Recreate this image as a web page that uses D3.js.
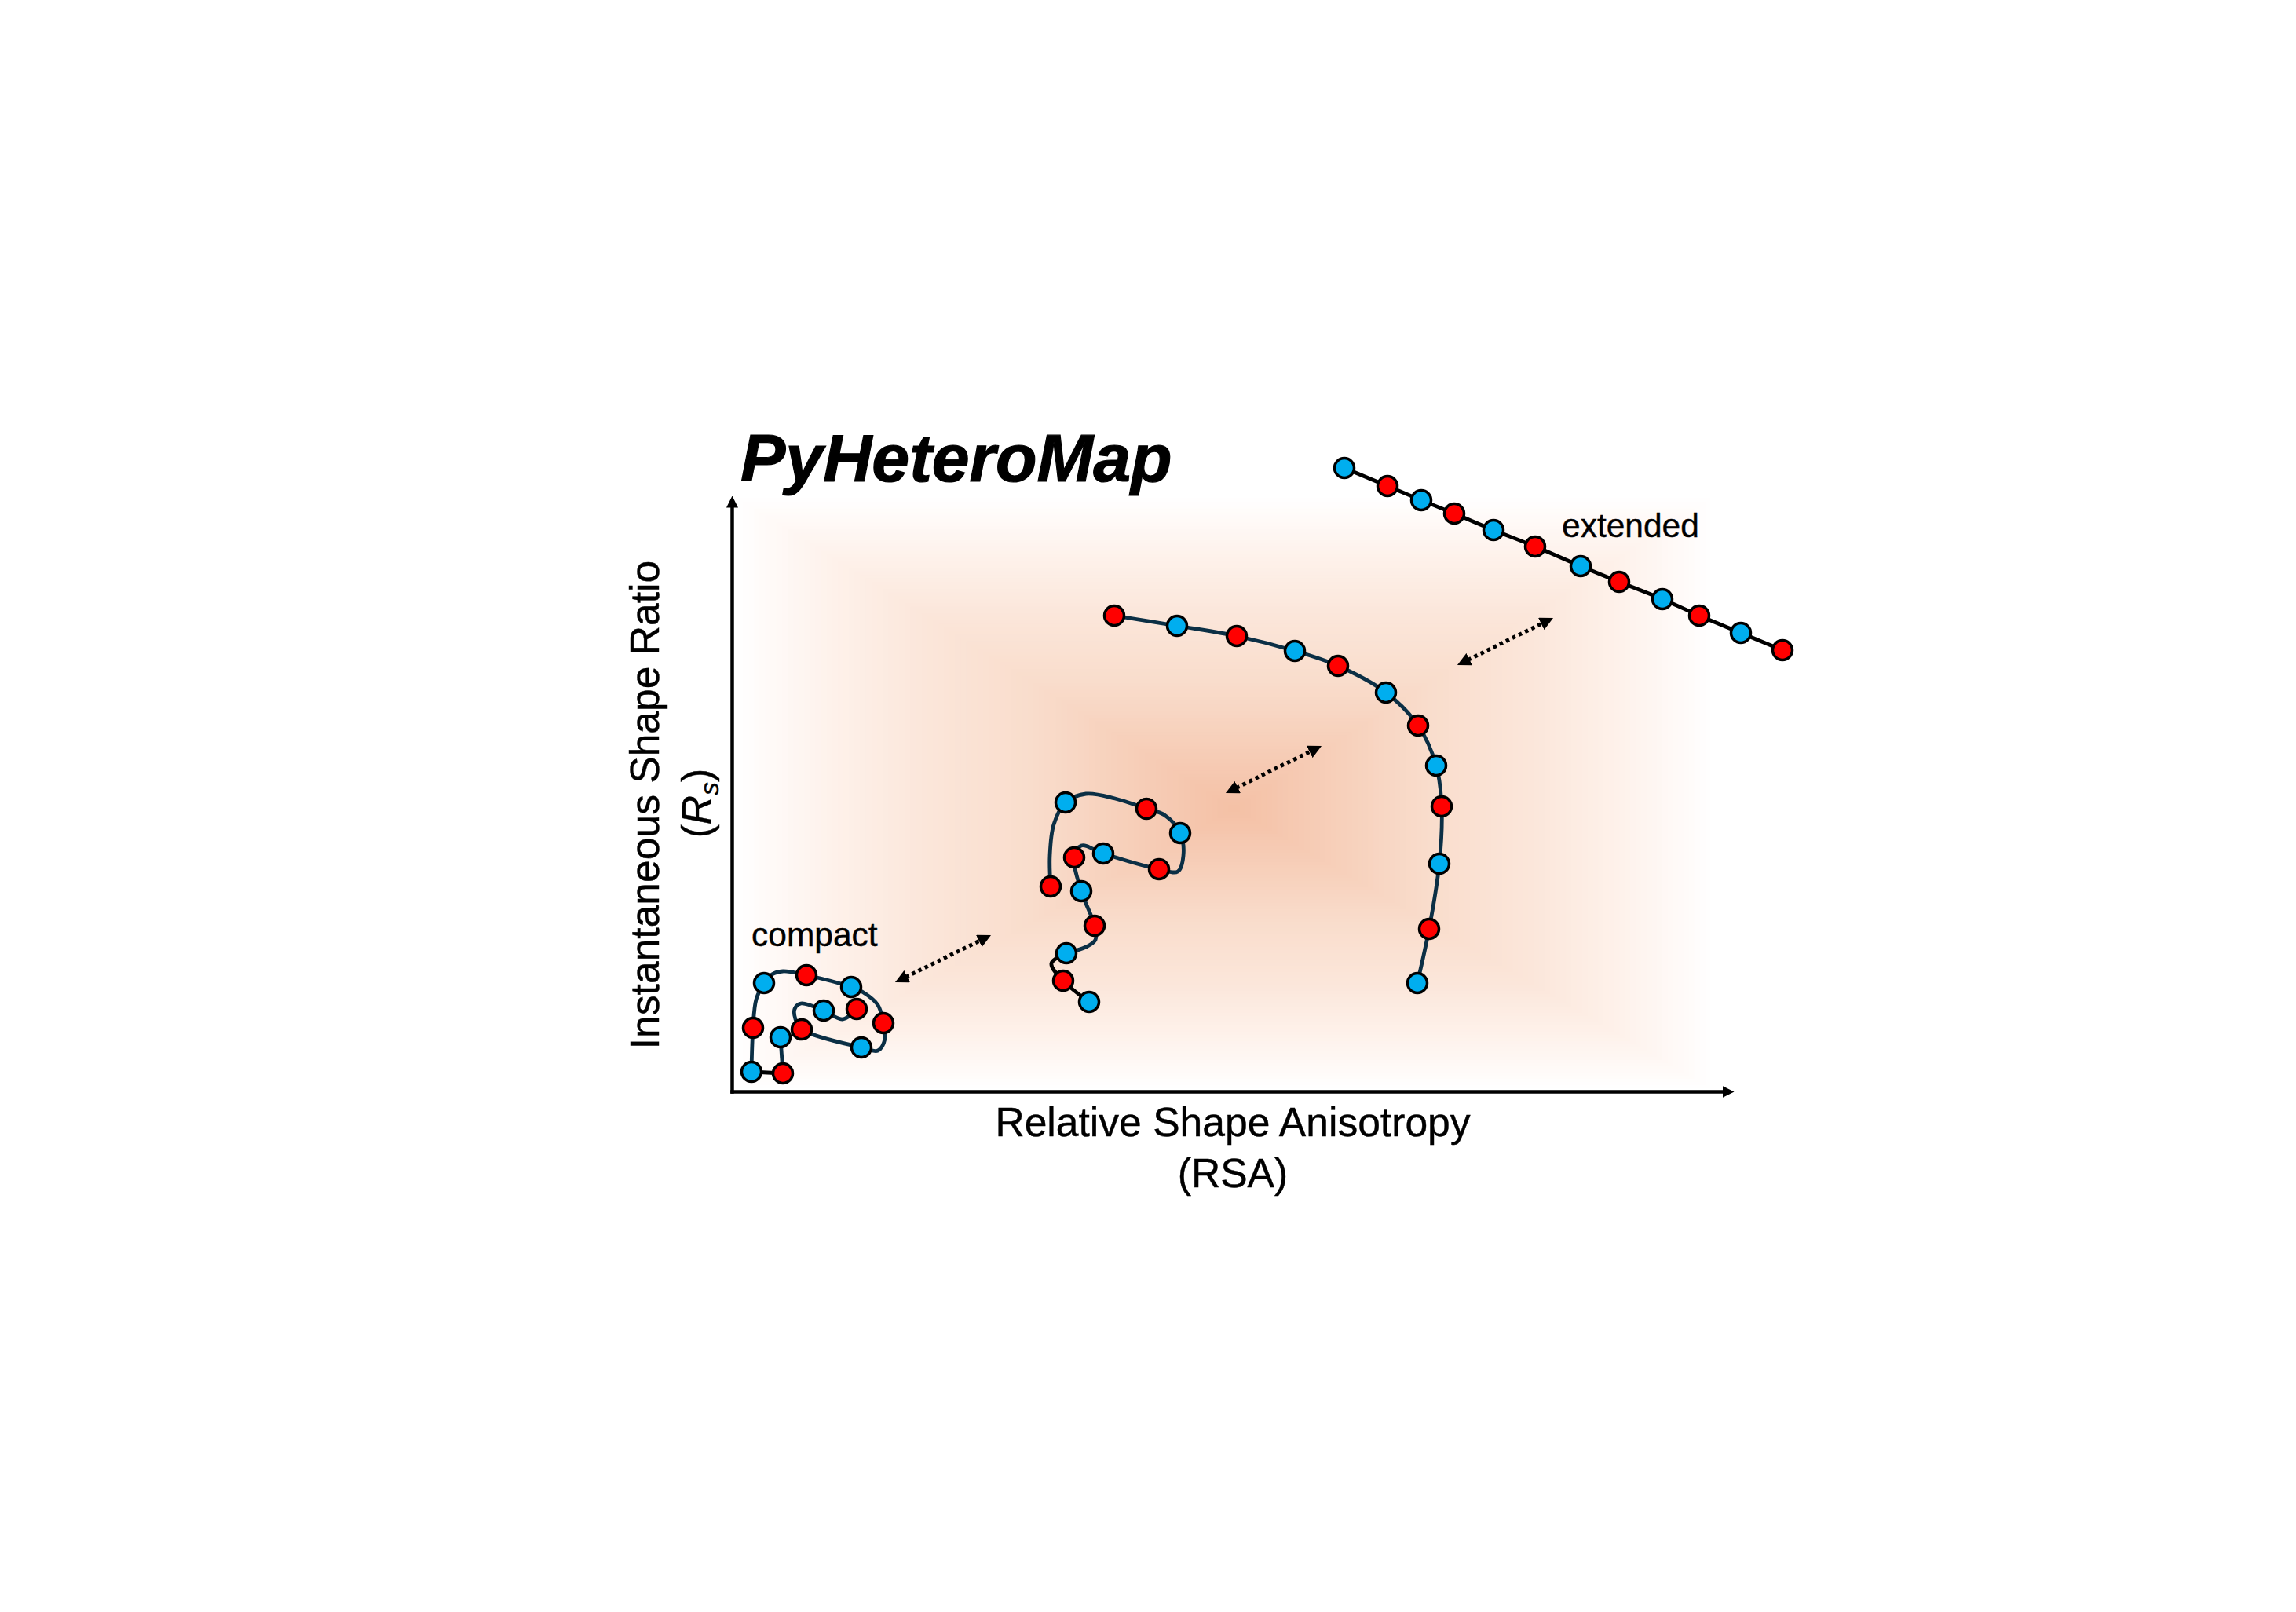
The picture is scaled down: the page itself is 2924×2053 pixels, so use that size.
<!DOCTYPE html>
<html>
<head>
<meta charset="utf-8">
<script src="https://cdn.jsdelivr.net/npm/d3@7"></script>
<style>
  html, body { margin: 0; background: #fff; }
  text { font-family: "Liberation Sans", Arial, sans-serif; fill: #000; stroke: #000; stroke-width: 0.4; }
</style>
</head>
<body>
<svg id="chart"></svg>
<script>
const compactBeadX = [159, 117, 89, 165, 193, 152, 95, 41, 27, 25, 65, 62];
const compactBeadY = [105, 103, 79, 56, 87, 133, 148, 138, 81, 25, 23, 69];
const compactLineX = [159, 141, 117, 88, 80, 81, 89, 165, 186, 195, 193, 186, 166, 152, 95, 65, 51, 41, 31, 27, 25];
const compactLineY = [105, 92, 103, 112, 105, 92, 79, 56, 52, 67, 87, 110, 127, 133, 148, 153, 149, 138, 117, 81, 25];
const compactTailX = [25, 65];
const compactTailY = [25, 23];
const compactEndX = [65, 62];
const compactEndY = [23, 69];

const midBeadX = [406, 425, 528, 571, 544, 473, 436, 445, 462, 426, 422, 455];
const midBeadY = [261, 368, 360, 329, 283, 303, 298, 255, 211, 176, 141, 114];
const midLineX = [406, 405, 410, 425, 451, 488, 528, 551, 571, 575, 568, 544, 473, 445, 436, 445, 462, 463, 451, 426];
const midLineY = [261, 300, 340, 368, 379, 373, 360, 352, 329, 300, 280, 283, 303, 313, 298, 255, 211, 193, 184, 176];
const midTailX = [426, 407, 422, 455];
const midTailY = [176, 163, 141, 114];

const arcBeadX = [487, 567, 643, 717, 772, 833, 874, 897, 904, 901, 888, 873];
const arcBeadY = [606, 593, 580, 561, 542, 508, 466, 415, 363, 290, 207, 138];

const extBeadX = [780, 835, 878, 920, 970, 1023, 1081, 1130, 1185, 1232, 1285, 1338];
const extBeadY = [794, 771, 753, 736, 715, 694, 669, 649, 627, 606, 584, 562];

const compactStartColor = "red";
const midStartColor = "red";
const arcStartColor = "red";
const extStartColor = "blue";

const arrowX1 = [208, 629, 924];
const arrowY1 = [139, 380, 543];
const arrowX2 = [330, 751, 1046];
const arrowY2 = [199, 440, 603];

const gradientStops = [0, 0.4, 0.62, 0.8, 1];
const gradientColors = ["#f4c0a5", "#f9dccb", "#fbe6da", "#fef1ea", "#ffffff"];

const width = 2924, height = 2053;
const navy = "#0b2f45";
const beadFill = { red: "#ff0000", blue: "#00aeef" };

const svg = d3.select("#chart").attr("width", width).attr("height", height);

const x = d3.scaleLinear().domain([0, 1261]).range([932, 2193]);
const y = d3.scaleLinear().domain([0, 744]).range([1390, 646]);

const defs = svg.append("defs");
function arrowMarker(id, len, wid, ref) {
  defs.append("marker")
    .attr("id", id)
    .attr("markerUnits", "userSpaceOnUse")
    .attr("markerWidth", len).attr("markerHeight", wid)
    .attr("refX", ref).attr("refY", wid / 2)
    .attr("orient", "auto-start-reverse")
    .append("path")
    .attr("d", `M0,0L${len},${wid / 2}L0,${wid}Z`)
    .attr("fill", "#000");
}
arrowMarker("axisHead", 15, 15, 0);
arrowMarker("dotHead", 17, 17, 2);

// background: rectangular path gradient, nested rects from the edge inwards
const bgColor = d3.scaleLinear().domain(gradientStops).range(gradientColors);
const bgLeft = 0, bgRight = 1253, bgBottom = 0, bgTop = 760, bgCx = 640, bgCy = 360;
svg.append("g").selectAll("rect")
  .data(d3.range(1, 0, -1 / 90))
  .enter()
  .append("rect")
  .attr("x", t => x(bgCx - (bgCx - bgLeft) * t))
  .attr("width", t => x(bgCx + (bgRight - bgCx) * t) - x(bgCx - (bgCx - bgLeft) * t))
  .attr("y", t => y(bgCy + (bgTop - bgCy) * t))
  .attr("height", t => y(bgCy - (bgCy - bgBottom) * t) - y(bgCy + (bgTop - bgCy) * t))
  .attr("fill", t => bgColor(t));

// axes, no ticks, only the arrows
const xAxis = d3.axisBottom(x).tickValues([]).tickSizeOuter(0);
const yAxis = d3.axisLeft(y).tickValues([]).tickSizeOuter(0);
svg.append("g").attr("transform", `translate(0,${y(0)})`).call(xAxis)
  .select(".domain").attr("stroke-width", 4.5).attr("stroke-linecap", "square").attr("marker-end", "url(#axisHead)");
svg.append("g").attr("transform", `translate(${x(0)},0)`).call(yAxis)
  .select(".domain").attr("stroke-width", 4.5).attr("stroke-linecap", "square").attr("marker-end", "url(#axisHead)");

// dotted double arrows
svg.append("g").selectAll("line")
  .data(arrowX1)
  .enter()
  .append("line")
  .attr("x1", (d, i) => x(d + (arrowX2[i] - d) * 0.11))
  .attr("y1", (d, i) => y(arrowY1[i] + (arrowY2[i] - arrowY1[i]) * 0.11))
  .attr("x2", (d, i) => x(arrowX2[i] - (arrowX2[i] - d) * 0.11))
  .attr("y2", (d, i) => y(arrowY2[i] - (arrowY2[i] - arrowY1[i]) * 0.11))
  .attr("stroke", "#000")
  .attr("stroke-width", 5)
  .attr("stroke-dasharray", "4.5 4.5")
  .attr("marker-start", "url(#dotHead)")
  .attr("marker-end", "url(#dotHead)");

const line = d3.line().x(d => x(d[0])).y(d => y(d[1])).curve(d3.curveCatmullRom.alpha(0.5));
const zipPts = (xs, ys) => xs.map((v, i) => [v, ys[i]]);

function drawLine(xs, ys, color) {
  svg.append("path")
    .attr("d", line(zipPts(xs, ys)))
    .attr("fill", "none")
    .attr("stroke", color)
    .attr("stroke-width", 4.8);
}

function drawBeads(xs, ys, first) {
  const other = first === "red" ? "blue" : "red";
  svg.append("g").selectAll("circle")
    .data(zipPts(xs, ys))
    .enter()
    .append("circle")
    .attr("cx", d => x(d[0]))
    .attr("cy", d => y(d[1]))
    .attr("r", 12.5)
    .attr("fill", (d, i) => beadFill[i % 2 === 0 ? first : other])
    .attr("stroke", "#000")
    .attr("stroke-width", 3.5);
}

drawLine(compactLineX, compactLineY, navy);
drawLine(compactTailX, compactTailY, "#000");
drawLine(compactEndX, compactEndY, navy);
drawBeads(compactBeadX, compactBeadY, compactStartColor);

drawLine(midLineX, midLineY, navy);
drawLine(midTailX, midTailY, "#000");
drawBeads(midBeadX, midBeadY, midStartColor);

drawLine(arcBeadX, arcBeadY, navy);
drawBeads(arcBeadX, arcBeadY, arcStartColor);

drawLine(extBeadX, extBeadY, "#000");
drawBeads(extBeadX, extBeadY, extStartColor);

// text
svg.append("text").attr("x", 943).attr("y", 613)
  .attr("font-size", 86).attr("font-weight", "bold").attr("font-style", "italic")
  .style("stroke-width", 1.2)
  .text("PyHeteroMap");

svg.append("text").attr("x", 957).attr("y", 1205).attr("font-size", 42.5).text("compact");
svg.append("text").attr("x", 1989).attr("y", 684).attr("font-size", 42.5).text("extended");

svg.append("text").attr("x", 1570).attr("y", 1447).attr("font-size", 51.6)
  .attr("text-anchor", "middle").text("Relative Shape Anisotropy");
svg.append("text").attr("x", 1570).attr("y", 1512).attr("font-size", 51.6)
  .attr("text-anchor", "middle").text("(RSA)");

svg.append("text").attr("transform", "translate(839,1025) rotate(-90)").attr("font-size", 51.6)
  .attr("text-anchor", "middle").text("Instantaneous Shape Ratio");

const rs = svg.append("text").attr("transform", "translate(905,1023) rotate(-90)")
  .attr("font-size", 51.6).attr("text-anchor", "middle");
rs.append("tspan").text("(");
rs.append("tspan").attr("font-style", "italic").text("R");
rs.append("tspan").attr("font-style", "italic").attr("font-size", 34).attr("dy", 10).text("s");
rs.append("tspan").attr("dy", -10).text(")");
</script>
</body>
</html>
